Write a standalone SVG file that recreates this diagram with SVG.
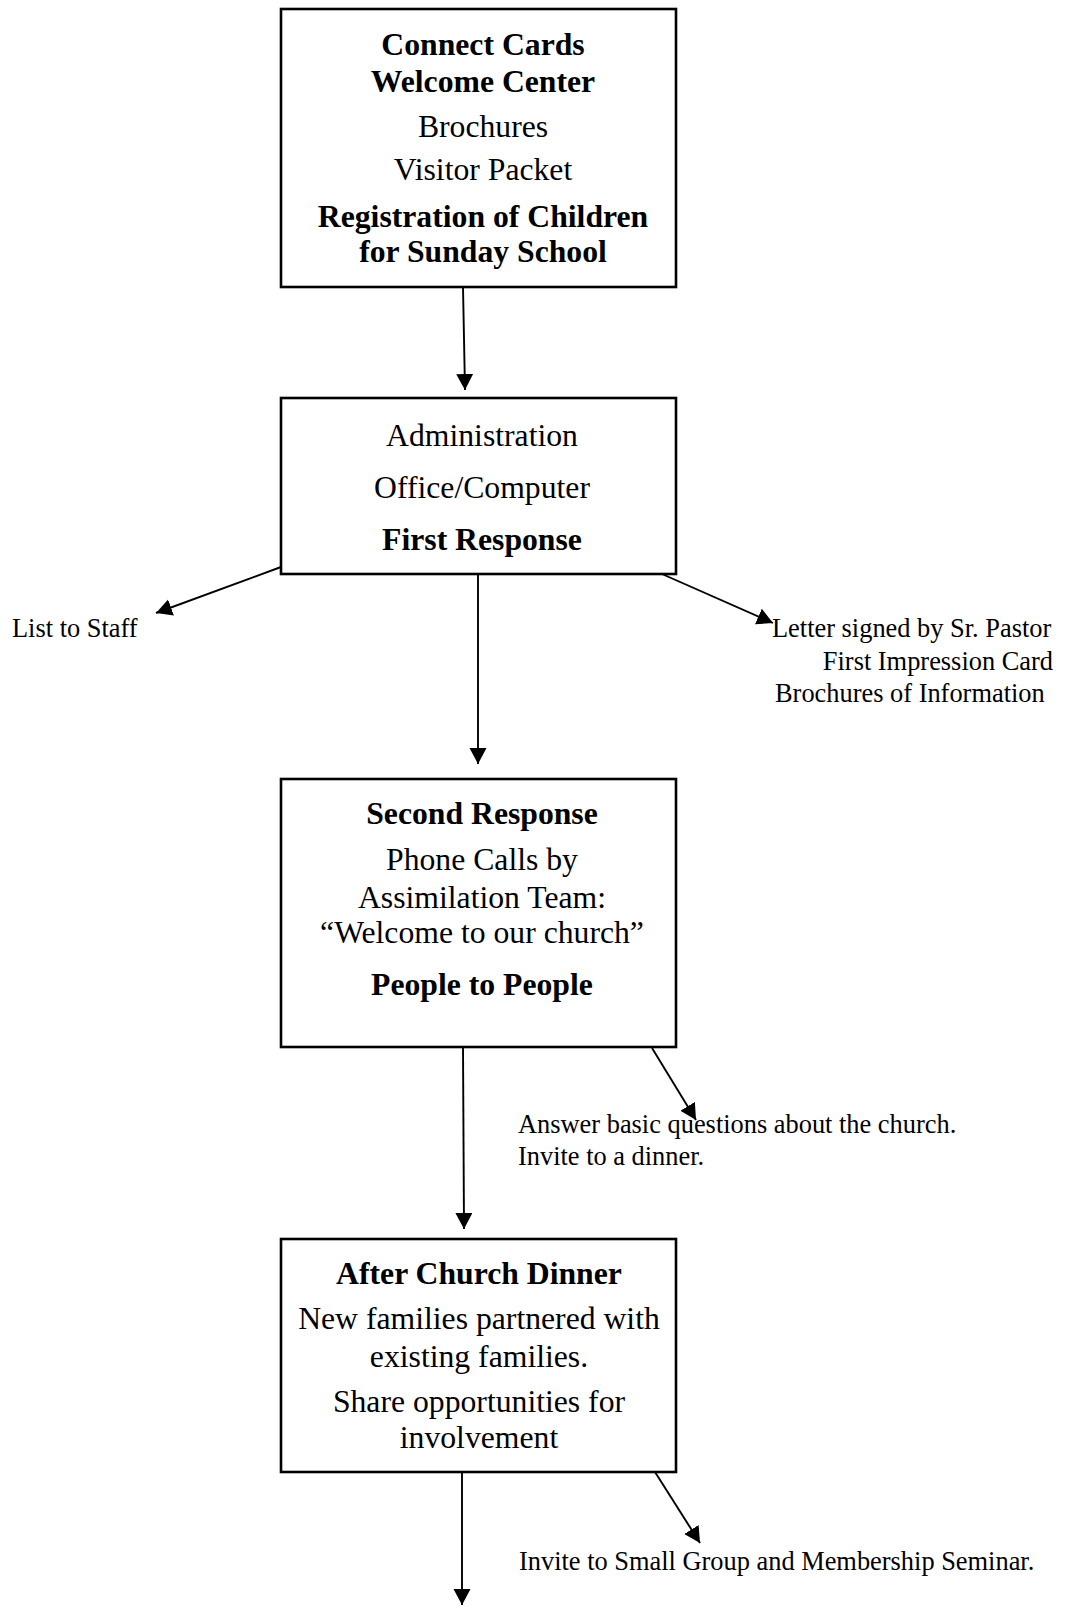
<svg xmlns="http://www.w3.org/2000/svg" width="1067" height="1606" viewBox="0 0 1067 1606">
<defs>
<style>
.box{fill:#fff;stroke:#000;stroke-width:2.6}
.t{font-family:"Liberation Serif","Times New Roman",serif;font-size:31.7px;fill:#000;text-anchor:middle}
.b{font-weight:bold}
.l{font-family:"Liberation Serif","Times New Roman",serif;font-size:26.4px;fill:#000}
.c{stroke:#000;stroke-width:1.9;fill:none;marker-end:url(#ah)}
</style>
<marker id="ah" markerUnits="userSpaceOnUse" markerWidth="18" markerHeight="18" refX="16" refY="8.5" orient="auto">
<path d="M0,0 L16,8.5 L0,17 z" fill="#000"/>
</marker>
</defs>
<rect width="1067" height="1606" fill="#fff"/>
<g id="connectors">
<line class="c" x1="463" y1="287" x2="465" y2="390"/>
<line class="c" x1="478" y1="569" x2="478" y2="764"/>
<line class="c" x1="281" y1="567" x2="156" y2="613"/>
<line class="c" x1="662" y1="574" x2="773" y2="623"/>
<line class="c" x1="463" y1="1047" x2="464" y2="1229"/>
<line class="c" x1="652" y1="1048" x2="696" y2="1120"/>
<line class="c" x1="462" y1="1465" x2="462" y2="1605"/>
<line class="c" x1="655" y1="1472" x2="700" y2="1543"/>
</g>
<g id="node-welcome">
<rect class="box" x="281" y="9" width="395" height="278"/>
<text class="t b" x="483" y="55">Connect Cards</text>
<text class="t b" x="483" y="92">Welcome Center</text>
<text class="t" x="483" y="137">Brochures</text>
<text class="t" x="483" y="180">Visitor Packet</text>
<text class="t b" x="483" y="227">Registration of Children</text>
<text class="t b" x="483" y="262">for Sunday School</text>
</g>
<g id="node-admin">
<rect class="box" x="281" y="398" width="395" height="176"/>
<text class="t" x="482" y="446">Administration</text>
<text class="t" x="482" y="498">Office/Computer</text>
<text class="t b" x="482" y="550">First Response</text>
</g>
<g id="label-staff">
<text class="l" x="12" y="637">List to Staff</text>
</g>
<g id="label-letter">
<text class="l" x="772" y="637">Letter signed by Sr. Pastor</text>
<text class="l" x="1053" y="670" text-anchor="end">First Impression Card</text>
<text class="l" x="775" y="702">Brochures of Information</text>
</g>
<g id="node-second">
<rect class="box" x="281" y="779" width="395" height="268"/>
<text class="t b" x="482" y="824">Second Response</text>
<text class="t" x="482" y="870">Phone Calls by</text>
<text class="t" x="482" y="908">Assimilation Team:</text>
<text class="t" x="482" y="943">“Welcome to our church”</text>
<text class="t b" x="482" y="995">People to People</text>
</g>
<g id="label-answer">
<text class="l" x="518" y="1133">Answer basic questions about the church.</text>
<text class="l" x="518" y="1165">Invite to a dinner.</text>
</g>
<g id="node-dinner">
<rect class="box" x="281" y="1239" width="395" height="233"/>
<text class="t b" x="479" y="1284">After Church Dinner</text>
<text class="t" x="479" y="1329">New families partnered with</text>
<text class="t" x="479" y="1367">existing families.</text>
<text class="t" x="479" y="1412">Share opportunities for</text>
<text class="t" x="479" y="1448">involvement</text>
</g>
<g id="label-invite">
<text class="l" x="519" y="1570">Invite to Small Group and Membership Seminar.</text>
</g>
</svg>
